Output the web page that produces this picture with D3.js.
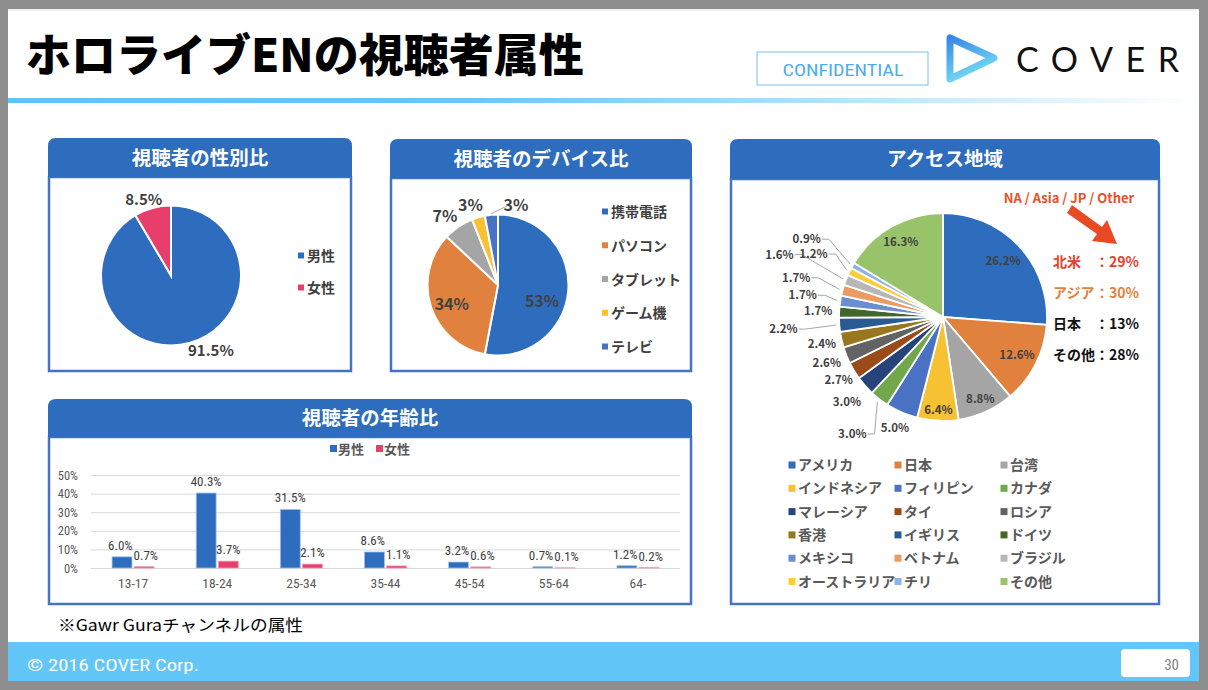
<!DOCTYPE html>
<html><head><meta charset="utf-8">
<script src="https://cdn.jsdelivr.net/npm/d3@7"></script>
<style>
html,body{margin:0;padding:0;background:#8e8e8e;}
svg{display:block;}
</style></head><body>
<svg id="c" width="1208" height="690"></svg>
<script>
// ---------- data ----------
const genderLabels = ["男性","女性"];
const genderValues = [91.5, 8.5];
const deviceLabels = ["携帯電話","パソコン","タブレット","ゲーム機","テレビ"];
const deviceValues = [53, 34, 7, 3, 3];
const regionLabels = ["アメリカ","日本","台湾","インドネシア","フィリピン","カナダ","マレーシア","タイ","ロシア","香港","イギリス","ドイツ","メキシコ","ベトナム","ブラジル","オーストラリア","チリ","その他"];
const regionValues = [26.2,12.6,8.8,6.4,5.0,3.0,3.0,2.7,2.6,2.4,2.2,1.7,1.7,1.7,1.6,1.2,0.9,16.3];
const ageCategories = ["13-17","18-24","25-34","35-44","45-54","55-64","64-"];
const ageSeries = ["男性","女性"];
const ageMale = [6.0,40.3,31.5,8.6,3.2,0.7,1.2];
const ageFemale = [0.7,3.7,2.1,1.1,0.6,0.1,0.2];
const ageTicks = [0,10,20,30,40,50];
const summaryNames = ["北米","アジア","日本","その他"];
const summaryValues = [29,30,13,28];

// ---------- styles / layout ----------
const JP = "'Noto Sans CJK JP','Noto Sans',sans-serif";
const NARROW = "'Liberation Sans Narrow','Roboto Condensed','Liberation Sans',sans-serif";
const genderColors = ["#2e6dbd","#e83e6c"];
const deviceColors = ["#2e6dbd","#e0823d","#a5a5a5","#f6c132","#4a72c4"];
const regionColors = ["#2e6dbd","#e0823d","#a5a5a5","#f6c132","#4a72c4","#70a84b","#26447a","#9b4a1a","#636363","#98771f","#2a5a92","#43672a","#6b8ed0","#ea9c62","#b7b7b7","#fccd3a","#8db4e2","#99c36a"];
const summaryColors = ["#e8402a","#e0823d","#111","#111"];
// label placement (radius, angle nudge in degrees)
const genderLabelPos = [[85,-12.7],[81,-4.4]];
const deviceLabelPos = [[47,15],[50,-4.4],[87,-3.3],[85,-2.7],[82,18]];
const regionLabelRadius = [82,83,90,93,121,148,128,122,125,124,160,125,142,152,175,144,157,86];

const svg = d3.select("#c");
const defs = svg.append("defs");

// slide
svg.append("rect").attr("x",0).attr("y",0).attr("width",1208).attr("height",690).attr("fill","#8e8e8e");
svg.append("rect").attr("x",8).attr("y",9).attr("width",1191).attr("height",672).attr("fill","#ffffff");
svg.append("rect").attr("x",8).attr("y",9).attr("width",1191).attr("height",2).attr("fill","#f2f2f2");

// header
svg.append("text").attr("x",26).attr("y",72).attr("font-family",JP).attr("font-weight",900)
  .attr("font-size",45).attr("fill","#000").text("ホロライブENの視聴者属性");

svg.append("rect").attr("x",757).attr("y",52).attr("width",171).attr("height",33)
  .attr("fill","#fff").attr("stroke","#8fcaf2").attr("stroke-width",1.2);
svg.append("text").attr("x",843).attr("y",76).attr("text-anchor","middle").attr("font-family",NARROW)
  .attr("font-size",16).attr("fill","#4aaeea").attr("textLength",121).attr("lengthAdjust","spacingAndGlyphs").text("CONFIDENTIAL");

const lg = defs.append("linearGradient").attr("id","logoG").attr("x1","0").attr("y1","0").attr("x2","0.4").attr("y2","1");
lg.append("stop").attr("offset","0").attr("stop-color","#3a86e6");
lg.append("stop").attr("offset","1").attr("stop-color","#72dcf2");
svg.append("path").attr("d","M950,38 L950,79 L994,58 Z").attr("fill","none")
  .attr("stroke","url(#logoG)").attr("stroke-width",7).attr("stroke-linejoin","round");
svg.append("text").attr("x",1016).attr("y",72).attr("font-family","Lato,'Open Sans',sans-serif").attr("font-weight",400)
  .attr("font-size",34).attr("fill","#111").attr("textLength",163).attr("lengthAdjust","spacing").text("COVER");

const bg = defs.append("linearGradient").attr("id","barG").attr("x1","0").attr("x2","1").attr("y1","0").attr("y2","0");
bg.append("stop").attr("offset","0").attr("stop-color","#5fc3f7");
bg.append("stop").attr("offset","0.38").attr("stop-color","#66c7f8");
bg.append("stop").attr("offset","1").attr("stop-color","#ffffff");
svg.append("rect").attr("x",8).attr("y",98).attr("width",1191).attr("height",5).attr("fill","url(#barG)");

// footer
svg.append("rect").attr("x",8).attr("y",642).attr("width",1191).attr("height",39).attr("fill","#63c6f8");
svg.append("text").attr("x",27).attr("y",671).attr("font-family",NARROW).attr("font-size",17).attr("fill","#fff")
  .attr("textLength",172).attr("lengthAdjust","spacingAndGlyphs").text("© 2016 COVER Corp.");
svg.append("rect").attr("x",1121).attr("y",649).attr("width",69).attr("height",28).attr("rx",4).attr("fill","#fff");
svg.append("text").attr("x",1179).attr("y",670).attr("text-anchor","end").attr("font-family",NARROW).attr("font-size",15).attr("fill","#808080").text("30");

svg.append("text").attr("x",58).attr("y",631).attr("font-family",JP).attr("font-size",16).attr("fill","#000")
  .attr("textLength",245).attr("lengthAdjust","spacingAndGlyphs").text("※Gawr Guraチャンネルの属性");

// panels
function panel(x,y,w,h,hh,title){
  const r = 8;
  svg.append("rect").attr("x",x+1).attr("y",y+hh).attr("width",w-2).attr("height",h-hh-1)
    .attr("fill","#fff").attr("stroke","#4472c4").attr("stroke-width",2.5);
  svg.append("path").attr("d",`M${x},${y+hh} V${y+r} Q${x},${y} ${x+r},${y} H${x+w-r} Q${x+w},${y} ${x+w},${y+r} V${y+hh} Z`)
    .attr("fill","#2e6dbd");
  svg.append("text").attr("x",x+w/2).attr("y",y+hh/2+7).attr("text-anchor","middle")
    .attr("font-family",JP).attr("font-weight",700).attr("font-size",19.5).attr("fill","#fff").text(title);
}
panel(48,138,304,234,39,"視聴者の性別比");
panel(390,139,302,233,39,"視聴者のデバイス比");
panel(730,139,430,466,40,"アクセス地域");
panel(48,399,644,206,38,"視聴者の年齢比");

const pie = d3.pie().sort(null).value(d=>d);
function polar(R, a){ return d3.arc().innerRadius(R).outerRadius(R).centroid({startAngle:a,endAngle:a}); }

// ---------- gender pie ----------
{
  const cx=171, cy=275.5, R=70;
  const g = svg.append("g").attr("transform",`translate(${cx},${cy})`);
  const arcs = pie(genderValues);
  g.selectAll("path").data(arcs).join("path").attr("d",d3.arc().innerRadius(0).outerRadius(R))
    .attr("fill",(d,i)=>genderColors[i]).attr("stroke","#fff").attr("stroke-width",2);
  g.selectAll("text").data(arcs).join("text").each(function(d,i){
    const a=(d.startAngle+d.endAngle)/2 + genderLabelPos[i][1]*Math.PI/180;
    const p=polar(genderLabelPos[i][0],a);
    d3.select(this).attr("x",p[0]).attr("y",p[1]+5.5);
  }).attr("text-anchor","middle").attr("font-family",JP).attr("font-weight",700).attr("font-size",15)
    .attr("fill","#404040").text(d=>d.value.toFixed(1)+"%");
  const lgd = svg.append("g");
  genderLabels.forEach((t,i)=>{
    const y = 256 + i*32;
    lgd.append("rect").attr("x",298).attr("y",y-3.5).attr("width",6).attr("height",6).attr("fill",genderColors[i]);
    lgd.append("text").attr("x",307).attr("y",y+5).attr("font-family",JP).attr("font-weight",700).attr("font-size",14)
      .attr("fill","#404040").text(t);
  });
}

// ---------- device pie ----------
{
  const cx=498, cy=285, R=70.5;
  const g = svg.append("g").attr("transform",`translate(${cx},${cy})`);
  const arcs = pie(deviceValues);
  g.selectAll("path").data(arcs).join("path").attr("d",d3.arc().innerRadius(0).outerRadius(R))
    .attr("fill",(d,i)=>deviceColors[i]).attr("stroke","#fff").attr("stroke-width",2);
  const last = arcs[arcs.length-1];
  const la = (last.startAngle+last.endAngle)/2;
  const p0 = polar(R+1, la), p1 = polar(deviceLabelPos[4][0], la + deviceLabelPos[4][1]*Math.PI/180);
  g.append("path").attr("d",`M${p0[0]},${p0[1]} L${p1[0]-9},${p1[1]+1}`).attr("stroke","#a6a6a6").attr("fill","none");
  g.selectAll("text").data(arcs).join("text").each(function(d,i){
    const a=(d.startAngle+d.endAngle)/2 + deviceLabelPos[i][1]*Math.PI/180;
    const p=polar(deviceLabelPos[i][0],a);
    d3.select(this).attr("x",p[0]).attr("y",p[1]+6);
  }).attr("text-anchor","middle").attr("font-family",JP).attr("font-weight",700).attr("font-size",16)
    .attr("fill","#404040").text(d=>d.value+"%");
  deviceLabels.forEach((t,i)=>{
    const y = 212 + i*33.75;
    svg.append("rect").attr("x",602).attr("y",y-3.5).attr("width",6).attr("height",6).attr("fill",deviceColors[i]);
    svg.append("text").attr("x",611).attr("y",y+5).attr("font-family",JP).attr("font-weight",700).attr("font-size",14)
      .attr("fill","#404040").text(t);
  });
}

// ---------- region pie ----------
{
  const cx=943, cy=317, R=104;
  const g = svg.append("g").attr("transform",`translate(${cx},${cy})`);
  const arcs = pie(regionValues);
  g.selectAll("path.s").data(arcs).join("path").attr("class","s").attr("d",d3.arc().innerRadius(0).outerRadius(R))
    .attr("fill",(d,i)=>regionColors[i]).attr("stroke","#fff").attr("stroke-width",1.8);
  arcs.forEach((d,i)=>{
    const a=(d.startAngle+d.endAngle)/2;
    const lr = regionLabelRadius[i];
    const p = polar(lr,a);
    const t = g.append("text").attr("x",p[0]).attr("y",p[1]+4).attr("text-anchor","middle")
      .attr("font-family",JP).attr("font-weight",700).attr("font-size",11.5).attr("fill","#404040")
      .text(d.value.toFixed(1)+"%");
    if (lr > R+35){
      const w = t.node().getComputedTextLength();
      const q = polar(R+3,a);
      const xr = p[0]+w/2+1;
      g.append("path").attr("d",`M${xr},${p[1]} L${xr+7},${p[1]} L${q[0]},${q[1]}`)
        .attr("fill","none").attr("stroke","#a6a6a6").attr("stroke-width",1);
    }
  });
  regionLabels.forEach((t,i)=>{
    const col = i%3, row = Math.floor(i/3);
    const x = 792 + col*106, y = 465 + row*23.3;
    svg.append("rect").attr("x",x-3.5).attr("y",y-3.5).attr("width",7).attr("height",7).attr("fill",regionColors[i]);
    svg.append("text").attr("x",x+6).attr("y",y+5).attr("font-family",JP).attr("font-weight",700).attr("font-size",14)
      .attr("fill","#595959").text(t);
  });
  svg.append("text").attr("x",1069).attr("y",203).attr("text-anchor","middle").attr("font-family",JP).attr("font-weight",700)
    .attr("font-size",13).attr("fill","#e8502a").text("NA / Asia / JP / Other");
  svg.append("path").attr("d","M1067,213 L1072,205 L1102,227 L1107,220 L1117,244 L1092,241 L1097,234 Z")
    .attr("fill","#e84a24");
  summaryNames.forEach((n,i)=>{
    const y = 262 + i*31 + 5;
    svg.append("text").attr("x",1053).attr("y",y).attr("font-family",JP).attr("font-weight",700).attr("font-size",14)
      .attr("fill",summaryColors[i]).text(n);
    svg.append("text").attr("x",1095).attr("y",y).attr("font-family",JP).attr("font-weight",700).attr("font-size",14)
      .attr("fill",summaryColors[i]).text("：" + summaryValues[i] + "%");
  });
}

// ---------- age bar chart ----------
{
  const x = d3.scaleBand().domain(ageCategories).range([91,680]);
  const y = d3.scaleLinear().domain([0,50]).range([568,475]);
  const sub = d3.scaleBand().domain(ageSeries).range([-21,21]).paddingInner(0.1);
  const barColors = ["#2e6dbd","#e83e6c"];
  const barStroke = ["#9dc0ea","#f49ab2"];

  const ya = svg.append("g").attr("transform","translate(91,0)")
    .call(d3.axisLeft(y).tickValues(ageTicks).tickSize(-589).tickFormat(d=>d+"%"));
  ya.select(".domain").remove();
  ya.selectAll("line").attr("stroke","#d9d9d9");
  ya.selectAll("text").attr("x",-13).attr("font-family",NARROW).attr("font-size",12.5).attr("fill","#595959");

  const xa = svg.append("g").attr("transform","translate(0,568)")
    .call(d3.axisBottom(x).tickSize(0).tickPadding(10));
  xa.select(".domain").remove();
  xa.selectAll("text").attr("font-family",NARROW).attr("font-size",13.5).attr("fill","#595959");

  const series = [ageMale, ageFemale];
  const labelSel = [];
  series.forEach((vals,si)=>{
    const g = svg.append("g");
    g.selectAll("rect").data(vals).join("rect")
      .attr("x",(d,i)=>x(ageCategories[i])+x.bandwidth()/2+sub(ageSeries[si]))
      .attr("y",d=>y(d)).attr("width",sub.bandwidth()).attr("height",d=>568-y(d))
      .attr("fill",barColors[si]).attr("stroke",barStroke[si]).attr("stroke-width",0.8);
    labelSel.push(g.selectAll("text").data(vals).join("text")
      .attr("x",(d,i)=>x(ageCategories[i])+x.bandwidth()/2+sub(ageSeries[si])+sub.bandwidth()/2)
      .attr("y",d=>y(d)-7).attr("text-anchor","middle")
      .attr("font-family",NARROW).attr("font-size",13).attr("fill","#404040").text(d=>d.toFixed(1)+"%"));
  });
  // keep male/female labels from overlapping (they abut in the reference)
  const mNodes = labelSel[0].nodes(), fNodes = labelSel[1].nodes();
  mNodes.forEach((m,i)=>{
    const f = fNodes[i];
    const mb = m.getBBox(), fb = f.getBBox();
    const vOverlap = mb.y < fb.y+fb.height && fb.y < mb.y+mb.height;
    const ov = mb.x+mb.width - fb.x + 1;
    if (vOverlap && ov > 0){
      m.setAttribute("x", +m.getAttribute("x") - ov/2);
      f.setAttribute("x", +f.getAttribute("x") + ov/2);
    }
  });
  ageSeries.forEach((t,i)=>{
    const lx = 330 + i*46;
    svg.append("rect").attr("x",lx).attr("y",445).attr("width",7).attr("height",7).attr("fill",barColors[i]);
    svg.append("text").attr("x",lx+8).attr("y",454).attr("font-family",JP).attr("font-weight",700).attr("font-size",13)
      .attr("fill","#595959").text(t);
  });
}
</script>
</body></html>
